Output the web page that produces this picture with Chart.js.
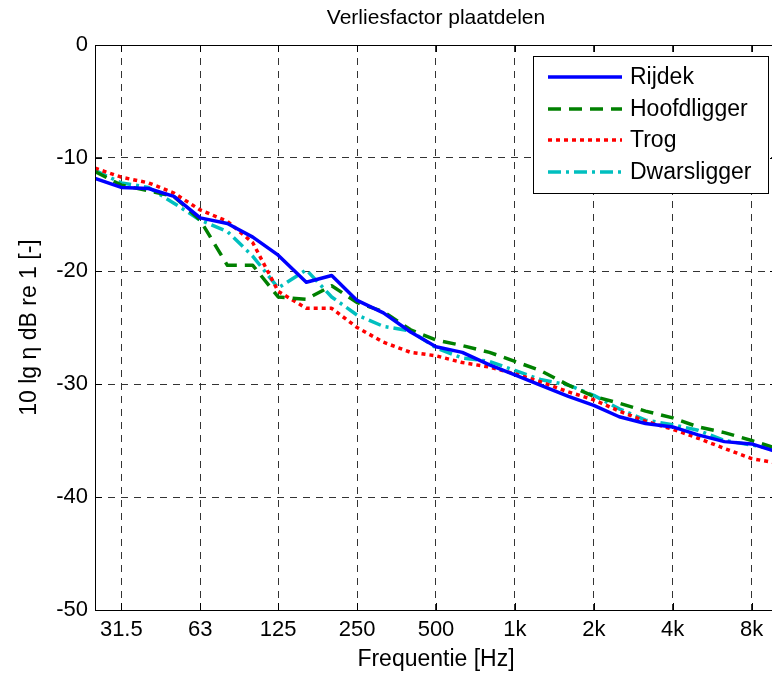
<!DOCTYPE html>
<html>
<head>
<meta charset="utf-8">
<title>Verliesfactor plaatdelen</title>
<script src="https://cdn.jsdelivr.net/npm/chart.js@4/dist/chart.umd.min.js"></script>
<style>
    html, body { margin: 0; padding: 0; background: #fff; overflow: hidden; }
    #wrap { position: relative; width: 790px; height: 678px; }
</style>
</head>
<body>
<div id="wrap"><canvas id="lossChart"></canvas></div>
<script>
// tertsbanden [Hz]
const freqs = [25, 31.5, 40, 50, 63, 80, 100, 125, 160, 200, 250, 315, 400, 500,
    630, 800, 1000, 1250, 1600, 2000, 2500, 3150, 4000, 5000, 6300, 8000, 10000];

// verliesfactor 10 lg eta [dB]
const rijdek = [-11.8, -12.6, -12.7, -13.4, -15.3, -15.8, -17.0, -18.6, -21.0, -20.4, -22.6, -23.7, -25.4, -26.7,
    -27.2, -28.3, -29.2, -30.1, -31.1, -31.9, -32.9, -33.5, -33.8, -34.5, -35.1, -35.3, -36.0];
const hoofdligger = [-11.2, -12.4, -12.9, -13.4, -15.5, -19.5, -19.5, -22.3, -22.5, -21.3, -22.8, -23.6, -25.2, -26.1,
    -26.6, -27.2, -28.0, -28.8, -30.1, -31.1, -31.7, -32.4, -33.0, -33.8, -34.3, -35.0, -35.7];
const trog = [-10.9, -11.7, -12.2, -13.1, -14.6, -15.6, -17.5, -21.8, -23.3, -23.3, -25.0, -26.3, -27.2, -27.5,
    -28.1, -28.5, -29.1, -29.8, -30.7, -31.4, -32.4, -33.3, -34.0, -34.8, -35.7, -36.6, -37.0];
const dwarsligger = [-11.1, -12.2, -12.6, -14.0, -15.5, -16.5, -18.7, -21.5, -19.9, -22.3, -23.9, -24.9, -25.3, -26.8,
    -27.7, -28.0, -28.8, -29.6, -30.1, -31.0, -32.2, -33.2, -33.6, -34.1, -35.0, -35.4, -35.8];

const xTickValues = [31.5, 63, 125, 250, 500, 1000, 2000, 4000, 8000];
const xTickLabels = ['31.5', '63', '125', '250', '500', '1k', '2k', '4k', '8k'];
const yTickValues = [0, -10, -20, -30, -40, -50];

const FONT = 'Helvetica, "Liberation Sans", Arial, sans-serif';

function toPoints(values) {
    return freqs.map((f, i) => ({ x: f, y: values[i] }));
}

function lineSet(label, values, color, dash) {
    return {
        label: label,
        data: toPoints(values),
        borderColor: color,
        backgroundColor: color,
        borderWidth: 3.5,
        borderDash: dash,
        borderCapStyle: 'butt',
        borderJoinStyle: 'round',
        pointRadius: 0,
        tension: 0,
        fill: false
    };
}

// assenkader met inwaartse streepjes
const axesBox = {
    id: 'axesBox',
    afterDatasetsDraw(chart) {
        const { ctx, chartArea: a, scales } = chart;
        const tick = 7;
        ctx.save();
        ctx.strokeStyle = '#000';
        ctx.lineWidth = 1;
        ctx.setLineDash([]);
        ctx.strokeRect(Math.round(a.left) + 0.5, Math.round(a.top) + 0.5,
            Math.round(a.right - a.left), Math.round(a.bottom - a.top));
        ctx.beginPath();
        xTickValues.forEach(v => {
            const x = Math.round(scales.x.getPixelForValue(v)) + 0.5;
            ctx.moveTo(x, a.bottom); ctx.lineTo(x, a.bottom - tick);
            ctx.moveTo(x, a.top); ctx.lineTo(x, a.top + tick);
        });
        yTickValues.forEach(v => {
            const y = Math.round(scales.y.getPixelForValue(v)) + 0.5;
            ctx.moveTo(a.left, y); ctx.lineTo(a.left + tick, y);
            ctx.moveTo(a.right, y); ctx.lineTo(a.right - tick, y);
        });
        ctx.stroke();
        ctx.restore();
    }
};

// legenda rechtsboven in de assen
const boxLegend = {
    id: 'boxLegend',
    afterDraw(chart) {
        const ctx = chart.ctx;
        const box = { x: 533.5, y: 56.5, w: 235, h: 137 };
        const rowY = [77, 109, 140, 172];
        ctx.save();
        ctx.fillStyle = '#fff';
        ctx.fillRect(box.x, box.y, box.w, box.h);
        ctx.strokeStyle = '#000';
        ctx.lineWidth = 1;
        ctx.setLineDash([]);
        ctx.strokeRect(box.x, box.y, box.w, box.h);
        ctx.font = '23px ' + FONT;
        ctx.textBaseline = 'middle';
        ctx.textAlign = 'left';
        chart.data.datasets.forEach((ds, i) => {
            const y = rowY[i];
            ctx.beginPath();
            ctx.strokeStyle = ds.borderColor;
            ctx.lineWidth = ds.borderWidth;
            ctx.lineCap = 'butt';
            ctx.setLineDash(ds.borderDash || []);
            ctx.moveTo(548, y);
            ctx.lineTo(622, y);
            ctx.stroke();
            ctx.setLineDash([]);
            ctx.fillStyle = '#000';
            ctx.fillText(ds.label, 630, y + 1);
        });
        ctx.restore();
    }
};

const ctx = document.getElementById('lossChart').getContext('2d');
const lossChart = new Chart(ctx, {
    type: 'line',
    data: {
        datasets: [
            lineSet('Rijdek', rijdek, '#0000ff', []),
            lineSet('Hoofdligger', hoofdligger, '#008000', [13, 8]),
            lineSet('Trog', trog, '#ff0000', [4, 4]),
            lineSet('Dwarsligger', dwarsligger, '#00bfbf', [13, 5, 3, 5])
        ]
    },
    options: {
        responsive: true,
        maintainAspectRatio: false,
        animation: false,
        layout: { padding: { left: 0, right: 13, top: 0, bottom: 0 } },
        plugins: {
            legend: { display: false },
            tooltip: { enabled: false },
            title: {
                display: true,
                text: 'Verliesfactor plaatdelen',
                color: '#000',
                fullSize: false,
                font: { family: FONT, size: 21, weight: 'normal', lineHeight: 1 },
                padding: { top: 8, bottom: 16 }
            }
        },
        scales: {
            x: {
                type: 'logarithmic',
                min: 25,
                max: 10000,
                afterBuildTicks: scale => {
                    scale.ticks = xTickValues.map(v => ({ value: v }));
                },
                afterFit: scale => { scale.height = 68; },
                ticks: {
                    autoSkip: false,
                    maxRotation: 0,
                    color: '#000',
                    padding: 7,
                    font: { family: FONT, size: 22 },
                    callback: (value, index) => xTickLabels[index]
                },
                grid: { color: '#333', lineWidth: 1, drawTicks: false },
                border: { display: false, dash: [7, 6] },
                title: {
                    display: true,
                    text: 'Frequentie [Hz]',
                    color: '#000',
                    font: { family: FONT, size: 23, lineHeight: 1 },
                    padding: { top: 0, bottom: 7 }
                }
            },
            y: {
                type: 'linear',
                min: -50,
                max: 0,
                afterBuildTicks: scale => {
                    scale.ticks = yTickValues.map(v => ({ value: v }));
                },
                afterFit: scale => { scale.width = 95; },
                ticks: {
                    color: '#000',
                    padding: 7,
                    font: { family: FONT, size: 22 }
                },
                grid: { color: '#333', lineWidth: 1, drawTicks: false },
                border: { display: false, dash: [7, 6] },
                title: {
                    display: true,
                    text: '10 lg η dB re 1 [-]',
                    color: '#000',
                    font: { family: FONT, size: 23, lineHeight: 1 },
                    padding: { top: 18, bottom: 0 }
                }
            }
        }
    },
    plugins: [axesBox, boxLegend]
});
</script>
</body>
</html>
